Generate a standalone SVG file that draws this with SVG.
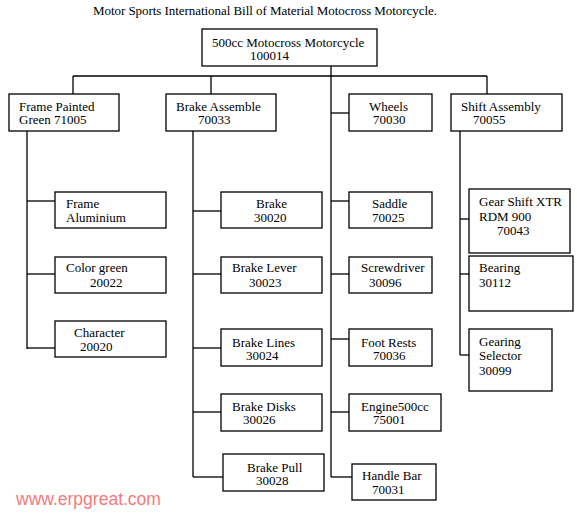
<svg xmlns="http://www.w3.org/2000/svg" width="577" height="517" viewBox="0 0 577 517">
<style>
.b{fill:#fff;stroke:#000;stroke-width:1.3}
.c line{stroke:#000;stroke-width:1.3}
text{font-family:"Liberation Serif","Times New Roman",serif;font-size:13px;fill:#000}
.w{font-family:"Liberation Sans",Arial,sans-serif;font-size:17.5px;fill:#f27b7b}
</style>
<rect width="577" height="517" fill="#fff"/>
<text x="93" y="15" textLength="344">Motor Sports International Bill of Material Motocross Motorcycle.</text>
<g id="connectors" class="c">
<line x1="331" y1="66" x2="331" y2="477"/>
<line x1="73" y1="76" x2="487" y2="76"/>
<line x1="73" y1="76" x2="73" y2="94"/>
<line x1="211" y1="76" x2="211" y2="94"/>
<line x1="487" y1="76" x2="487" y2="94"/>
<line x1="331" y1="113" x2="349" y2="113"/>
<line x1="27" y1="131" x2="27" y2="349"/>
<line x1="27" y1="201" x2="55" y2="201"/>
<line x1="27" y1="274" x2="55" y2="274"/>
<line x1="27" y1="348" x2="55" y2="348"/>
<line x1="193" y1="131" x2="193" y2="477"/>
<line x1="193" y1="211" x2="221" y2="211"/>
<line x1="193" y1="274" x2="221" y2="274"/>
<line x1="193" y1="348" x2="221" y2="348"/>
<line x1="193" y1="412" x2="221" y2="412"/>
<line x1="193" y1="477" x2="223" y2="477"/>
<line x1="331" y1="201" x2="349" y2="201"/>
<line x1="331" y1="274" x2="349" y2="274"/>
<line x1="331" y1="339" x2="349" y2="339"/>
<line x1="331" y1="412" x2="349" y2="412"/>
<line x1="331" y1="477" x2="352" y2="477"/>
<line x1="460" y1="131" x2="460" y2="355"/>
<line x1="460" y1="219" x2="469" y2="219"/>
<line x1="460" y1="274" x2="469" y2="274"/>
<line x1="460" y1="355" x2="469" y2="355"/>
</g>
<g id="root"><rect class="b" x="202" y="29" width="175" height="37"/><text x="212" y="47">500cc Motocross Motorcycle</text><text x="250" y="60">100014</text></g>
<g id="frame-painted"><rect class="b" x="9" y="94" width="110" height="37"/><text x="19" y="111">Frame Painted</text><text x="19" y="124">Green 71005</text></g>
<g id="brake-assemble"><rect class="b" x="166" y="94" width="110" height="37"/><text x="176" y="111">Brake Assemble</text><text x="198" y="124">70033</text></g>
<g id="wheels"><rect class="b" x="349" y="94" width="83" height="37"/><text x="369" y="111">Wheels</text><text x="373" y="124">70030</text></g>
<g id="shift-assembly"><rect class="b" x="451" y="94" width="111" height="37"/><text x="461" y="111">Shift Assembly</text><text x="473" y="124">70055</text></g>
<g id="frame-aluminium"><rect class="b" x="55" y="192" width="111" height="36"/><text x="66" y="208">Frame</text><text x="66" y="222">Aluminium</text></g>
<g id="color-green"><rect class="b" x="55" y="257" width="111" height="36"/><text x="66" y="272">Color green</text><text x="90" y="287">20022</text></g>
<g id="character"><rect class="b" x="55" y="321" width="111" height="36"/><text x="74" y="337">Character</text><text x="80" y="351">20020</text></g>
<g id="brake"><rect class="b" x="221" y="192" width="101" height="36"/><text x="256" y="208">Brake</text><text x="254" y="222">30020</text></g>
<g id="brake-lever"><rect class="b" x="221" y="257" width="101" height="36"/><text x="232" y="272">Brake Lever</text><text x="249" y="287">30023</text></g>
<g id="brake-lines"><rect class="b" x="221" y="329" width="101" height="37"/><text x="232" y="347">Brake Lines</text><text x="246" y="360">30024</text></g>
<g id="brake-disks"><rect class="b" x="221" y="394" width="101" height="37"/><text x="232" y="411">Brake Disks</text><text x="243" y="424">30026</text></g>
<g id="brake-pull"><rect class="b" x="223" y="454" width="101" height="37"/><text x="247" y="472">Brake Pull</text><text x="256" y="485">30028</text></g>
<g id="saddle"><rect class="b" x="349" y="192" width="83" height="36"/><text x="372" y="208">Saddle</text><text x="372" y="222">70025</text></g>
<g id="screwdriver"><rect class="b" x="349" y="257" width="83" height="36"/><text x="361" y="272">Screwdriver</text><text x="369" y="287">30096</text></g>
<g id="foot-rests"><rect class="b" x="349" y="329" width="83" height="37"/><text x="361" y="347">Foot Rests</text><text x="373" y="360">70036</text></g>
<g id="engine"><rect class="b" x="349" y="394" width="92" height="37"/><text x="361" y="411">Engine500cc</text><text x="373" y="424">75001</text></g>
<g id="handle-bar"><rect class="b" x="352" y="464" width="84" height="36"/><text x="362" y="480">Handle Bar</text><text x="372" y="494">70031</text></g>
<g id="gear-shift"><rect class="b" x="469" y="189" width="101" height="64"/><text x="479" y="206">Gear Shift XTR</text><text x="479" y="221">RDM 900</text><text x="497" y="235">70043</text></g>
<g id="bearing"><rect class="b" x="469" y="256" width="104" height="55"/><text x="479" y="272">Bearing</text><text x="479" y="287">30112</text></g>
<g id="gearing-selector"><rect class="b" x="469" y="329" width="83" height="62"/><text x="479" y="346">Gearing</text><text x="479" y="360">Selector</text><text x="479" y="375">30099</text></g>
<text class="w" x="16" y="505">www.erpgreat.com</text>
</svg>
